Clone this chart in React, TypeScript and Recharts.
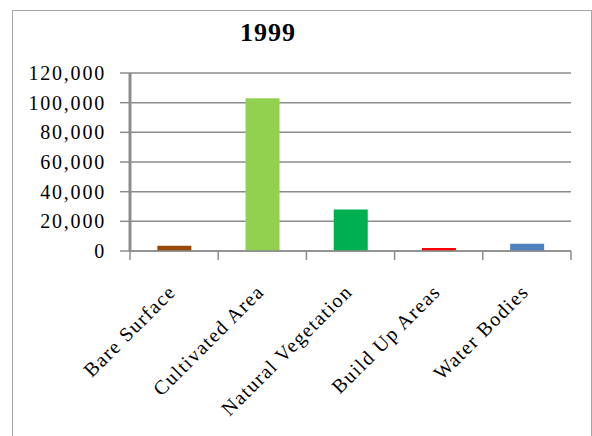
import { BarChart, Bar, XAxis, YAxis, CartesianGrid, Cell } from 'recharts';

// Land cover classes for 1999 (area units as reported)
const categories = ['Bare Surface', 'Cultivated Area', 'Natural Vegetation', 'Build Up Areas', 'Water Bodies'];
const areaValues = [3600, 103000, 28000, 2100, 4900];
const barColors = ['#984807', '#92d050', '#00b050', '#ff0000', '#4f81bd'];
const yTicks = [0, 20000, 40000, 60000, 80000, 100000, 120000];

const data = categories.map((name, i) => ({ name, value: areaValues[i] }));

const FONT = '"Liberation Serif", "Times New Roman", serif';
const GRID = '#8c8c8c';

const formatNumber = (v: number) => v.toLocaleString('en-US');

// rotated label plus tick marks on the category boundaries (half a band either side)
const CategoryTick = ({ x, y, payload, index, visibleTicksCount }: any) => {
  const half = payload.offset ?? 0;
  const isLast = index === visibleTicksCount - 1;
  return (
    <g>
      <line x1={x - half} x2={x - half} y1={y} y2={y + 9} stroke={GRID} strokeWidth={1.5} />
      {isLast && <line x1={x + half} x2={x + half} y1={y} y2={y + 9} stroke={GRID} strokeWidth={1.5} />}
      <g transform={`translate(${x + 3},${y + 42})`}>
        <text
          x={0}
          y={0}
          textAnchor="end"
          transform="rotate(-45)"
          fontFamily={FONT}
          fontSize={20}
          letterSpacing={1.4}
          fill="#000"
        >
          {payload.value}
        </text>
      </g>
    </g>
  );
};

export default function App() {
  return (
    <div style={{ position: 'absolute', left: 0, top: 0, width: 592, height: 436, overflow: 'hidden', background: '#fff' }}>
      {/* chart frame, bottom edge runs past the page */}
      <div
        style={{
          position: 'absolute',
          left: 12,
          top: 10,
          width: 580,
          height: 460,
          border: '1.5px solid #a6a6a6',
          boxSizing: 'border-box',
        }}
      />
      <div
        style={{
          position: 'absolute',
          left: 0,
          top: 20,
          width: 536,
          textAlign: 'center',
          fontFamily: FONT,
          fontWeight: 'bold',
          fontSize: 26,
          lineHeight: '26px',
          letterSpacing: 1,
          color: '#000',
        }}
      >
        1999
      </div>
      <div style={{ position: 'absolute', left: 0, top: 0 }}>
        <BarChart
          width={592}
          height={436}
          data={data}
          margin={{ top: 73, right: 21, left: 12, bottom: 184 }}
          barCategoryGap="31%"
        >
          <CartesianGrid vertical={false} stroke={GRID} strokeWidth={1.5} />
          <XAxis
            dataKey="name"
            type="category"
            height={1}
            tickSize={0}
            tickMargin={0}
            tickLine={false}
            interval={0}
            stroke={GRID}
            axisLine={{ stroke: GRID, strokeWidth: 1.5 }}
            tick={<CategoryTick />}
          />
          <YAxis
            width={118}
            domain={[0, 120000]}
            ticks={yTicks}
            interval={0}
            tickSize={10}
            tickMargin={14}
            tickFormatter={formatNumber}
            tickLine={{ stroke: GRID, strokeWidth: 1.5 }}
            axisLine={{ stroke: GRID, strokeWidth: 3 }}
            tick={{ fontFamily: FONT, fontSize: 20, fill: '#000', letterSpacing: 1.8 }}
          />
          <Bar dataKey="value" isAnimationActive={false}>
            {data.map((entry, index) => (
              <Cell key={`cell-${index}`} fill={barColors[index]} />
            ))}
          </Bar>
        </BarChart>
      </div>
    </div>
  );
}
